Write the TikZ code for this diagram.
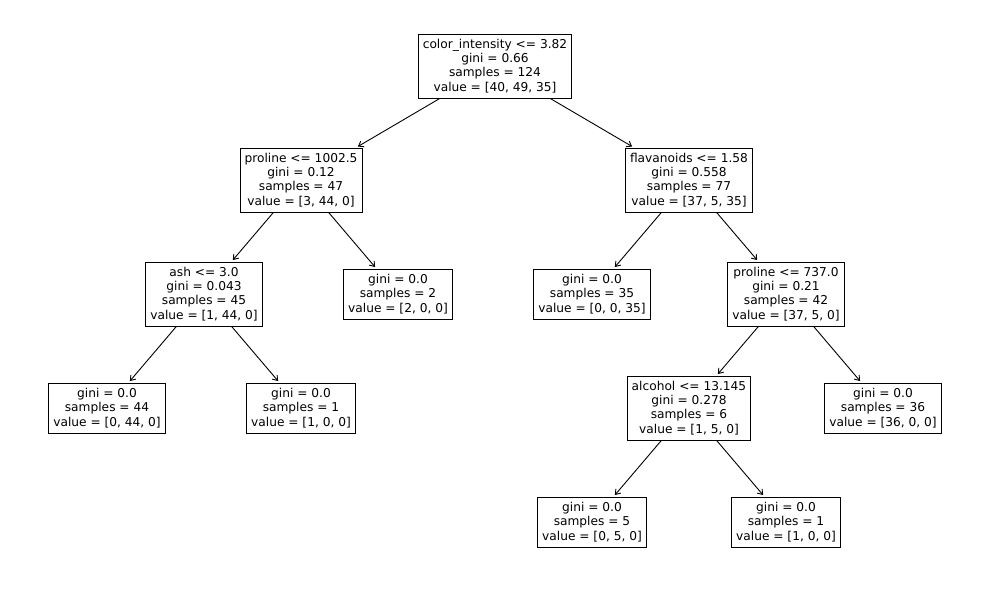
\documentclass[tikz,border=0pt]{standalone}
\usepackage{fontspec}
\setmainfont{DejaVu Sans}
\usetikzlibrary{arrows.meta}

\begin{document}
\begin{tikzpicture}[x=1pt,y=-1pt,
    split/.style={draw,line width=0.9pt,align=center,inner xsep=4.6pt,inner ysep=0pt,
      minimum height=64pt,font=\fontsize{12.2}{14.3}\selectfont},
    leaf/.style={split,minimum height=50pt},
    edge/.style={line width=0.9pt,shorten >=2pt,-{Straight Barb[length=4.5pt,width=6.5pt]}}]
    \useasboundingbox (0,0) rectangle (989,589);
    % root and first split
    \node[split] (root) at (495,66) {color\_intensity <= 3.82\\gini = 0.66\\samples = 124\\value = [40, 49, 35]};
    \node[split] (prolineA) at (301,180) {proline <= 1002.5\\gini = 0.12\\samples = 47\\value = [3, 44, 0]};
    \node[split] (flav) at (689,180) {flavanoids <= 1.58\\gini = 0.558\\samples = 77\\value = [37, 5, 35]};
    % third row
    \node[split] (ash) at (204,294) {ash <= 3.0\\gini = 0.043\\samples = 45\\value = [1, 44, 0]};
    \node[leaf] (leafB) at (398,294) {gini = 0.0\\samples = 2\\value = [2, 0, 0]};
    \node[leaf] (leafC) at (592,294) {gini = 0.0\\samples = 35\\value = [0, 0, 35]};
    \node[split] (prolineB) at (786,294) {proline <= 737.0\\gini = 0.21\\samples = 42\\value = [37, 5, 0]};
    % fourth row
    \node[leaf] (leafA) at (107,408) {gini = 0.0\\samples = 44\\value = [0, 44, 0]};
    \node[leaf] (leafD) at (301,408) {gini = 0.0\\samples = 1\\value = [1, 0, 0]};
    \node[split] (alcohol) at (689,408) {alcohol <= 13.145\\gini = 0.278\\samples = 6\\value = [1, 5, 0]};
    \node[leaf] (leafE) at (883,408) {gini = 0.0\\samples = 36\\value = [36, 0, 0]};
    % last row
    \node[leaf] (leafF) at (592,522) {gini = 0.0\\samples = 5\\value = [0, 5, 0]};
    \node[leaf] (leafG) at (786,522) {gini = 0.0\\samples = 1\\value = [1, 0, 0]};
    % edges
    \draw[edge] (root) -- (prolineA);
    \draw[edge] (root) -- (flav);
    \draw[edge] (prolineA) -- (ash);
    \draw[edge] (prolineA) -- (leafB);
    \draw[edge] (flav) -- (leafC);
    \draw[edge] (flav) -- (prolineB);
    \draw[edge] (ash) -- (leafA);
    \draw[edge] (ash) -- (leafD);
    \draw[edge] (prolineB) -- (alcohol);
    \draw[edge] (prolineB) -- (leafE);
    \draw[edge] (alcohol) -- (leafF);
    \draw[edge] (alcohol) -- (leafG);
\end{tikzpicture}
\end{document}
